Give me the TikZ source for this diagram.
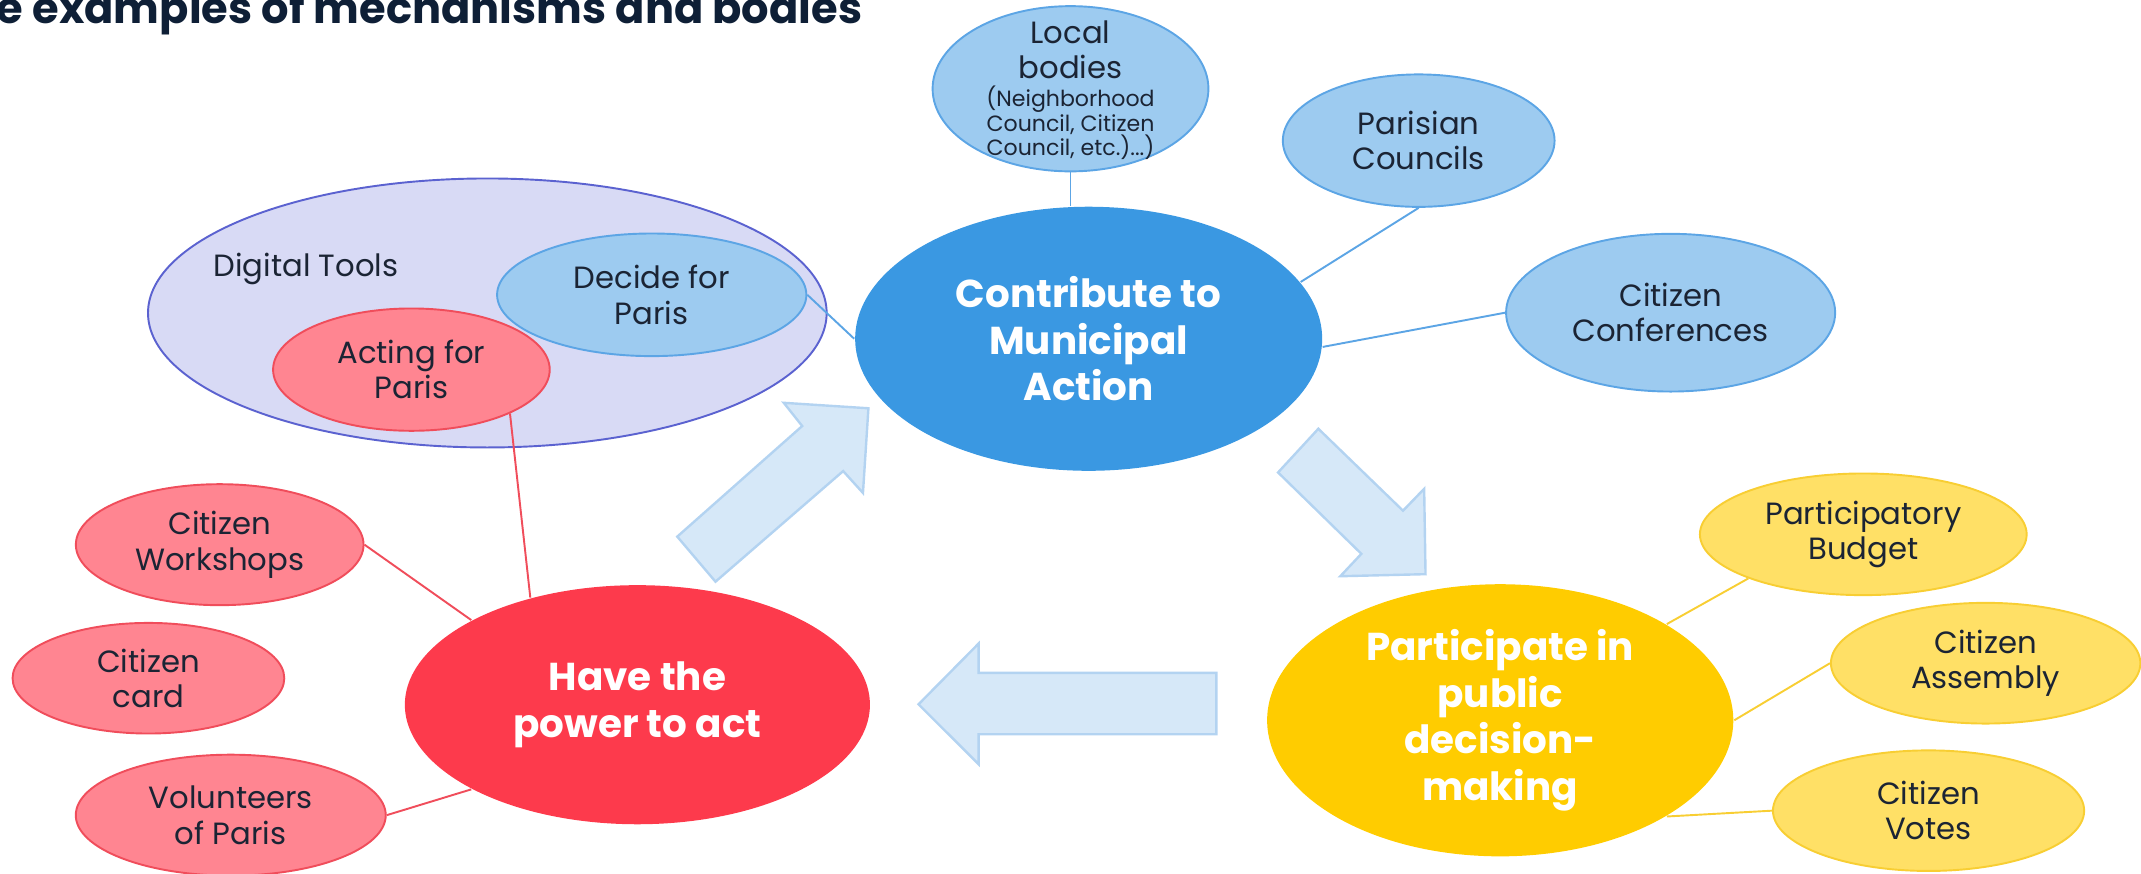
\documentclass[tikz,border=0pt]{standalone}
\usepackage{fontspec}
\setmainfont{Poppins}
\usetikzlibrary{shapes.geometric}
\definecolor{mainblue}{HTML}{3A98E2}
\definecolor{lightblue}{HTML}{9DCBF0}
\definecolor{blueline}{HTML}{5CA5E5}
\definecolor{mainred}{HTML}{FD3A4C}
\definecolor{pinkfill}{HTML}{FF8591}
\definecolor{pinkline}{HTML}{F04D5B}
\definecolor{mainyellow}{HTML}{FFCC00}
\definecolor{lightyellow}{HTML}{FFE066}
\definecolor{yellowline}{HTML}{F8CE33}
\definecolor{lavender}{HTML}{D8DAF5}
\definecolor{lavline}{HTML}{5B62D0}
\definecolor{arrowfill}{HTML}{D6E8F8}
\definecolor{arrowline}{HTML}{B3D3F1}
\definecolor{ink}{HTML}{1B2434}
\definecolor{titleink}{HTML}{0E1F36}
\newcommand\regtxt{\fontsize{6.4}{7.4}\selectfont}
\newcommand\tinytxt{\fontsize{4.6}{5.1}\selectfont}
\newcommand\hubtxt{\fontsize{8.1}{9.7}\selectfont\bfseries}

\begin{document}
\begin{tikzpicture}[
    bubble/.style={ellipse,draw,line width=0.4pt,inner sep=0pt,align=center,font=\regtxt,text=ink},
    hub/.style={ellipse,inner sep=0pt,align=center,font=\hubtxt,text=white},
    bluebub/.style={bubble,fill=lightblue,draw=blueline},
    pinkbub/.style={bubble,fill=pinkfill,draw=pinkline},
    yellowbub/.style={bubble,fill=lightyellow,draw=yellowline},
    link/.style={line width=0.4pt},
    bigarrow/.style={fill=arrowfill,draw=arrowline,line width=0.5pt,line join=miter}
  ]
\useasboundingbox (0,0) rectangle (15.68,6.40);
  \node[anchor=base west,font=\fontsize{9}{11}\selectfont\bfseries,text=titleink,inner sep=0pt] (title) at (-0.03,6.23) {e examples of mechanisms and bodies};
  % Digital tools
  \node[ellipse,draw=lavline,fill=lavender,line width=0.4pt,minimum width=4.97cm,minimum height=1.97cm] (digital) at (3.569,4.108) {};
  \node[anchor=base west,inner sep=0pt,font=\regtxt,text=ink] (digitaltxt) at (1.558,4.373) {Digital Tools};
  \node[bluebub,minimum width=2.265cm,minimum height=0.898cm] (decide) at (4.773,4.241) {Decide for\\Paris};
  \node[pinkbub,minimum width=2.026cm,minimum height=0.896cm] (acting) at (3.013,3.693) {Acting for\\Paris};
  % hubs
  \node[hub,fill=mainblue,minimum width=3.42cm,minimum height=1.934cm] (blue) at (7.973,3.919) {Contribute to\\Municipal\\Action};
  \node[hub,fill=mainred,minimum width=3.406cm,minimum height=1.751cm] (have) at (4.668,1.239) {Have the\\power to act};
  \node[hub,fill=mainyellow,minimum width=3.414cm,minimum height=1.993cm] (part) at (10.987,1.125) {Participate in\\public\\decision-\\making};
  % blue bubbles
  \node[bluebub,minimum width=2.02cm,minimum height=1.21cm] (local) at (7.84,5.75) {};
  \node[align=center,inner sep=0pt,font=\regtxt,text=ink] (localtxt) at (7.84,5.74) {Local\\bodies\\[-1.6pt]\tinytxt (Neighborhood\\[-2.3pt]\tinytxt Council, Citizen\\[-2.3pt]\tinytxt Council, etc.)...)};
  \node[bluebub,minimum width=1.99cm,minimum height=0.97cm] (paris) at (10.39,5.37) {Parisian\\Councils};
  \node[bluebub,minimum width=2.41cm,minimum height=1.155cm] (conf) at (12.235,4.11) {Citizen\\Conferences};
  % red bubbles
  \node[pinkbub,minimum width=2.107cm,minimum height=0.886cm] (work) at (1.609,2.411) {Citizen\\Workshops};
  \node[pinkbub,minimum width=1.99cm,minimum height=0.81cm] (card) at (1.087,1.433) {Citizen\\card};
  \node[pinkbub,minimum width=2.27cm,minimum height=0.886cm] (vol) at (1.69,0.43) {Volunteers\\of Paris};
  % yellow bubbles
  \node[yellowbub,minimum width=2.393cm,minimum height=0.891cm] (budget) at (13.646,2.487) {Participatory\\Budget};
  \node[yellowbub,minimum width=2.266cm,minimum height=0.884cm] (assembly) at (14.542,1.543) {Citizen\\Assembly};
  \node[yellowbub,minimum width=2.279cm,minimum height=0.883cm] (votes) at (14.124,0.463) {Citizen\\Votes};
  % links
  \draw[link,blueline] (local.south) -- (local.south |- blue.north);
  \draw[link,blueline] (paris.south) -- (blue.15);
  \draw[link,blueline] (conf.west) -- (blue.-2);
  \draw[link,blueline] (decide.east) -- (blue.west);
  \draw[link,pinkline] (acting.-24) -- (have.135);
  \draw[link,pinkline] (work.east) -- (have.153);
  \draw[link,pinkline] (vol.east) -- (have.207);
  \draw[link,yellowline] (budget.201) -- (part.30);
  \draw[link,yellowline] (assembly.west) -- (part.east);
  \draw[link,yellowline] (votes.west) -- (part.-30);
  % block arrows
  \draw[bigarrow] (4.96,2.47) -- (5.875,3.28) -- (5.74,3.45) -- (6.36,3.41) -- (6.32,2.79) -- (6.175,2.95) -- (5.24,2.14) -- cycle;
  \draw[bigarrow] (9.655,3.26) -- (10.275,2.66) -- (10.43,2.82) -- (10.44,2.195) -- (9.816,2.18) -- (9.97,2.344) -- (9.36,2.94) -- cycle;
  \draw[bigarrow] (6.727,1.242) -- (7.167,1.687) -- (7.167,1.472) -- (8.908,1.472) -- (8.908,1.023) -- (7.167,1.023) -- (7.167,0.803) -- cycle;
\end{tikzpicture}
\end{document}
